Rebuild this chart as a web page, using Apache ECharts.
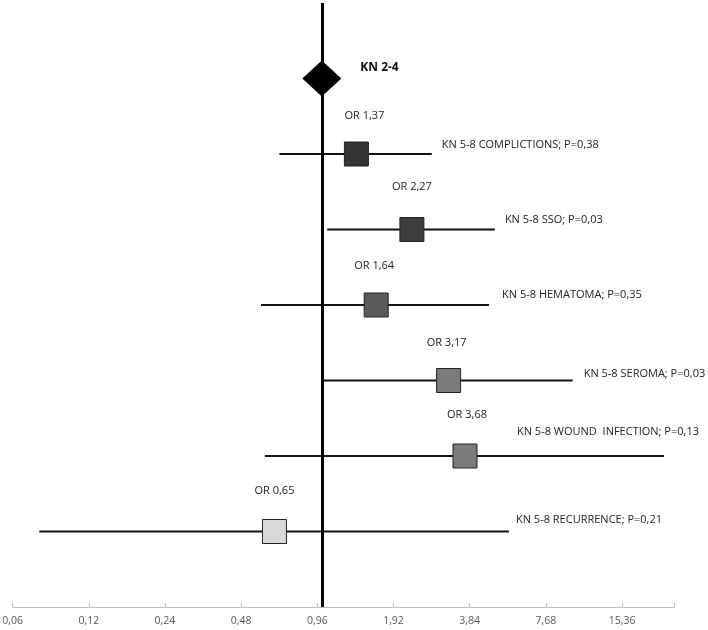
<!DOCTYPE html>
<html>
<head>
<meta charset="utf-8">
<script src="https://cdn.jsdelivr.net/npm/echarts@6/dist/echarts.min.js"></script>
<style>
html,body{margin:0;padding:0;background:#fff;}
#chart{width:708px;height:630px;}
</style>
</head>
<body>
<div id="chart"></div>
<script>
// ---- data ----
var referenceName = 'KN 2-4';
var referenceValue = 1;
var categories = ['KN 5-8 COMPLICTIONS', 'KN 5-8 SSO', 'KN 5-8 HEMATOMA', 'KN 5-8 SEROMA', 'KN 5-8 WOUND  INFECTION', 'KN 5-8 RECURRENCE'];
var oddsRatios = [1.37, 2.27, 1.64, 3.17, 3.68, 0.65];
var ciLow = [0.68, 1.05, 0.575, 1.02, 0.596, 0.0765];
var ciHigh = [2.72, 4.83, 4.58, 9.8, 22.5, 5.49];
var pValues = ['0,38', '0,03', '0,35', '0,03', '0,13', '0,21'];
var tickLabels = ['0,06', '0,12', '0,24', '0,48', '0,96', '1,92', '3,84', '7,68', '15,36'];

// ---- styles ----
var axisMin = 0.06;
var axisSpan = 8.686;               // doublings shown on the axis
var axisMax = axisMin * Math.pow(2, axisSpan);
var boxColors = ['#333333', '#3d3d3d', '#5a5a5a', '#7b7b7b', '#7b7b7b', '#d9d9d9'];
var nameOffsets = [[10, -9], [10, -10], [13, -10], [11, -7], [-147, -24], [7, -12]];
var orOffsets = [[8, -38], [0, -43], [-2, -39], [-2, -38], [2, -41], [0, -41]];
var FONT = '"Open Sans", "Noto Sans", sans-serif';

var rows = categories.map(function (c, i) {
  return [ciLow[i], ciHigh[i], i + 1, oddsRatios[i]];
});

function renderItem(params, api) {
  var i = params.dataIndex;
  var y = api.value(2);
  var pLo = api.coord([api.value(0), y]);
  var pHi = api.coord([api.value(1), y]);
  var pOr = api.coord([api.value(3), y]);
  var s = 24;
  var orText = 'OR ' + String(oddsRatios[i]).replace('.', ',');
  var nameText = categories[i] + '; P=' + pValues[i];
  return {
    type: 'group',
    children: [
      { type: 'line', shape: { x1: pLo[0], y1: pLo[1], x2: pHi[0], y2: pHi[1] },
        style: { stroke: '#111', lineWidth: 2 } },
      { type: 'rect', shape: { x: pOr[0] - s / 2, y: pOr[1] - s / 2, width: s, height: s },
        style: { fill: boxColors[i], stroke: '#222', lineWidth: 1 } },
      { type: 'text', style: { text: orText, x: pOr[0] + orOffsets[i][0], y: pOr[1] + orOffsets[i][1],
        align: 'center', verticalAlign: 'middle', textAlign: 'center', textVerticalAlign: 'middle',
        fill: '#222', fontSize: 11, fontFamily: FONT } },
      { type: 'text', style: { text: nameText, x: pHi[0] + nameOffsets[i][0], y: pHi[1] + nameOffsets[i][1],
        align: 'left', verticalAlign: 'middle', textAlign: 'left', textVerticalAlign: 'middle',
        fill: '#222', fontSize: 11, fontFamily: FONT } }
    ]
  };
}

var chart = echarts.init(document.getElementById('chart'), null, { renderer: 'canvas' });
chart.setOption({
  animation: false,
  backgroundColor: '#fff',
  grid: { left: 12.6, right: 33.7, top: 3, bottom: 23, containLabel: false, outerBoundsMode: 'none' },
  xAxis: [
    { type: 'log', logBase: 2, min: axisMin, max: axisMax, show: false, position: 'top' },
    { type: 'value', min: 0, max: axisSpan, interval: 1, position: 'bottom',
      axisLine: { show: true, lineStyle: { color: '#bfbfbf', width: 1 } },
      axisTick: { show: true, inside: true, length: 4, lineStyle: { color: '#bfbfbf' } },
      splitLine: { show: false },
      axisLabel: { color: '#595959', fontSize: 10.5, fontFamily: FONT, margin: 9,
        showMaxLabel: true,
        formatter: function (v) { return (Math.abs(v - Math.round(v)) < 1e-6 && tickLabels[Math.round(v)]) || ''; } } }
  ],
  yAxis: { type: 'value', min: -1, max: 7, inverse: true, show: false },
  series: [
    { type: 'custom', xAxisIndex: 0, yAxisIndex: 0, renderItem: renderItem, data: rows, z: 2,
      encode: { x: [0, 1, 3], y: 2 } },
    { type: 'scatter', xAxisIndex: 0, yAxisIndex: 0, z: 4,
      data: [[referenceValue, 0]],
      symbol: 'diamond', symbolSize: [39, 36],
      itemStyle: { color: '#000', opacity: 1 },
      label: { show: true, position: 'right', distance: 19, offset: [0, -11],
        formatter: referenceName, color: '#111', fontSize: 12, fontWeight: 'bold', fontFamily: FONT },
      markLine: { silent: true, symbol: ['none', 'none'], animation: false,
        label: { show: false },
        lineStyle: { color: '#000', width: 3, type: 'solid' },
        data: [{ xAxis: referenceValue }] } }
  ]
});
</script>
</body>
</html>
